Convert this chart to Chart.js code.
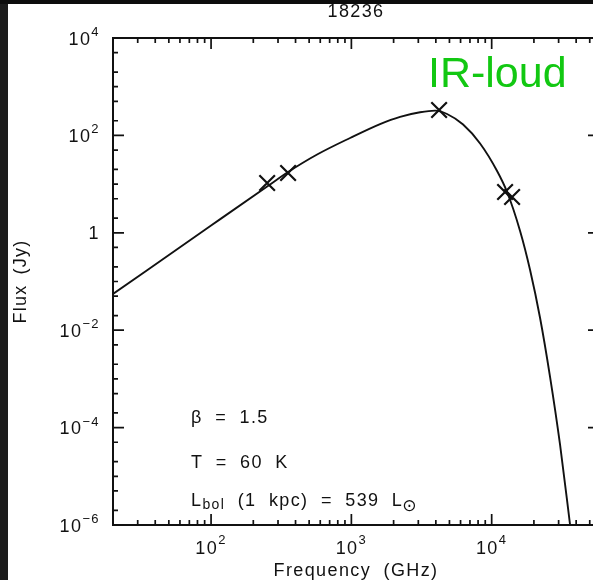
<!DOCTYPE html>
<html lang="en">
<head>
<meta charset="UTF-8" />
<title>SED 18236</title>
<script src="https://cdn.jsdelivr.net/npm/chart.js@4"></script>
<style>
  html, body { margin: 0; padding: 0; overflow: hidden; }
  body { background: #1c1c1c; width: 593px; height: 580px; position: relative; }
  #topStrip { position: absolute; left: 0; top: 0; width: 593px; height: 4px; background: #0d0d0d; }
  #panel { position: absolute; left: 8px; top: 4px; width: 612px; height: 576px; background: #fff; }
  #panel canvas { display: block; }
</style>
</head>
<body>
<div id="topStrip"></div>
<div id="panel"><canvas id="sedChart" width="612" height="576"></canvas></div>

<script>
  // greybody fit (GHz, Jy)
  const curveFreq = [20, 100, 251, 354, 570, 979, 1601, 2224, 3088, 3951, 4810, 6256, 8268,
                     10927, 12877, 15937, 18780, 22130, 26080, 30730, 36220];
  const curveFlux = [0.0554, 1.41, 8.93, 17.7, 40.5, 88.5, 171, 241, 299, 323, 275, 167, 68.2,
                     18.6, 6.88, 1.09, 0.172, 0.0178, 1.09e-3, 4.4e-5, 1.0e-6];

  // measured fluxes (crosses)
  const obsFreq = [251, 354, 4219, 12460, 13980];
  const obsFlux = [10.5, 16.9, 332, 6.88, 5.43];

  // axes
  const xRange = [20, 58200];
  const yRange = [1e-6, 1e4];
  const xMajorTicks = [1e2, 1e3, 1e4];
  const xTickLabels = [["10", "2"], ["10", "3"], ["10", "4"]];
  const xMinorSteps = [2, 3, 4, 5, 6, 7, 8, 9];
  const yMajorTicks = [1e-6, 1e-4, 1e-2, 1, 1e2, 1e4];
  const yTickLabels = [["10", "\u22126"], ["10", "\u22124"], ["10", "\u22122"], ["1", ""], ["10", "2"], ["10", "4"]];
  const yMinorSteps = [1, 2, 5];

  const annotations = ["\u03b2 = 1.5", "T = 60 K"];

  const FONT = "Liberation Sans, Arial, sans-serif";
  const INK = "#111";

  function minorTicks(range, steps) {
    const out = [];
    for (let e = -7; e <= 5; e++) {
      steps.forEach(s => {
        const v = s * Math.pow(10, e);
        if (v > range[0] * 1.0001 && v < range[1] * 0.9999) out.push(v);
      });
    }
    return out;
  }

  function setText(ctx, size) {
    ctx.font = size + "px " + FONT;
    ctx.letterSpacing = "1.4px";
    ctx.wordSpacing = "6px";
  }

  // frame, inward ticks and all text
  const framePlugin = {
    id: "frame",
    afterDatasetsDraw(chart) {
      const { ctx, chartArea: a, scales: { x, y } } = chart;
      ctx.save();
      ctx.strokeStyle = INK;
      ctx.fillStyle = INK;
      ctx.lineWidth = 2;
      ctx.strokeRect(a.left, a.top, a.right - a.left, a.bottom - a.top);

      ctx.lineWidth = 1.7;
      ctx.beginPath();
      const tickX = (v, len) => {
        const px = x.getPixelForValue(v);
        ctx.moveTo(px, a.bottom); ctx.lineTo(px, a.bottom - len);
        ctx.moveTo(px, a.top); ctx.lineTo(px, a.top + len);
      };
      const tickY = (v, len) => {
        const py = y.getPixelForValue(v);
        ctx.moveTo(a.left, py); ctx.lineTo(a.left + len, py);
        ctx.moveTo(a.right, py); ctx.lineTo(a.right - len, py);
      };
      minorTicks(xRange, xMinorSteps).forEach(v => tickX(v, 5));
      xMajorTicks.forEach(v => tickX(v, 11));
      minorTicks(yRange, yMinorSteps).filter(v => !yMajorTicks.some(m => Math.abs(m / v - 1) < 1e-6))
        .forEach(v => tickY(v, 5));
      yMajorTicks.forEach(v => tickY(v, 11));
      ctx.stroke();

      // y tick labels
      ctx.textBaseline = "alphabetic";
      yMajorTicks.forEach((v, i) => {
        const py = y.getPixelForValue(v);
        const [base, sup] = yTickLabels[i];
        const rx = a.left - 13;
        ctx.textAlign = "right";
        setText(ctx, 13);
        const supW = sup ? ctx.measureText(sup).width : 0;
        if (sup) ctx.fillText(sup, rx, py - 2);
        setText(ctx, 18);
        ctx.fillText(base, rx - supW, py + 6.5);
      });

      // x tick labels
      xMajorTicks.forEach((v, i) => {
        const px = x.getPixelForValue(v);
        const [base, sup] = xTickLabels[i];
        setText(ctx, 18);
        const bw = ctx.measureText(base).width;
        setText(ctx, 13);
        const sw = ctx.measureText(sup).width;
        const left = px - (bw + sw) / 2;
        ctx.textAlign = "left";
        setText(ctx, 18);
        ctx.fillText(base, left, a.bottom + 29);
        setText(ctx, 13);
        ctx.fillText(sup, left + bw, a.bottom + 19);
      });

      // axis titles and plot title
      const cx = (a.left + a.right) / 2;
      setText(ctx, 18);
      ctx.textAlign = "center";
      ctx.fillText("Frequency (GHz)", cx, a.bottom + 51);
      ctx.fillText("18236", cx, a.top - 21);
      ctx.save();
      ctx.translate(18, (a.top + a.bottom) / 2);
      ctx.rotate(-Math.PI / 2);
      ctx.letterSpacing = "1.2px";
      ctx.wordSpacing = "4px";
      ctx.fillText("Flux (Jy)", 0, 0);
      ctx.restore();

      // fit parameters
      ctx.textAlign = "left";
      const ax = a.left + 78;
      setText(ctx, 18);
      ctx.fillText(annotations[0], ax, a.top + 385);
      ctx.fillText(annotations[1], ax, a.top + 430);
      let lx = ax;
      const lb = a.top + 468;
      ctx.fillText("L", lx, lb); lx += ctx.measureText("L").width;
      setText(ctx, 14);
      ctx.fillText("bol", lx, lb + 3); lx += ctx.measureText("bol").width;
      setText(ctx, 18);
      const rest = " (1 kpc) = 539 L";
      ctx.fillText(rest, lx, lb); lx += ctx.measureText(rest).width;
      ctx.font = "17px DejaVu Sans";
      ctx.letterSpacing = "0px";
      ctx.fillText("\u2299", lx - 1, lb + 5);

      // class label
      ctx.fillStyle = "#12c812";
      ctx.font = "43px " + FONT;
      ctx.letterSpacing = "0px";
      ctx.wordSpacing = "0px";
      ctx.fillText("IR-loud", a.left + 315, a.top + 49);
      ctx.restore();
    }
  };

  new Chart(document.getElementById("sedChart"), {
    type: "line",
    data: {
      datasets: [
        {
          label: "fit",
          data: curveFreq.map((f, i) => ({ x: f, y: curveFlux[i] })),
          borderColor: INK,
          borderWidth: 1.9,
          pointRadius: 0,
          cubicInterpolationMode: "monotone",
          fill: false
        },
        {
          label: "data",
          data: obsFreq.map((f, i) => ({ x: f, y: obsFlux[i] })),
          showLine: false,
          pointStyle: "crossRot",
          pointRadius: 11,
          pointBorderWidth: 2.2,
          borderColor: INK,
          backgroundColor: INK
        }
      ]
    },
    options: {
      responsive: false,
      animation: false,
      layout: { padding: { left: 0, top: 34, right: 21, bottom: 0 } },
      plugins: { legend: { display: false }, tooltip: { enabled: false } },
      scales: {
        x: {
          type: "logarithmic",
          min: xRange[0],
          max: xRange[1],
          grid: { display: false },
          border: { display: false },
          ticks: { display: false },
          afterFit: s => { s.height = 55; }
        },
        y: {
          type: "logarithmic",
          min: yRange[0],
          max: yRange[1],
          grid: { display: false },
          border: { display: false },
          ticks: { display: false },
          afterFit: s => { s.width = 105; }
        }
      }
    },
    plugins: [framePlugin]
  });
</script>
</body>
</html>
